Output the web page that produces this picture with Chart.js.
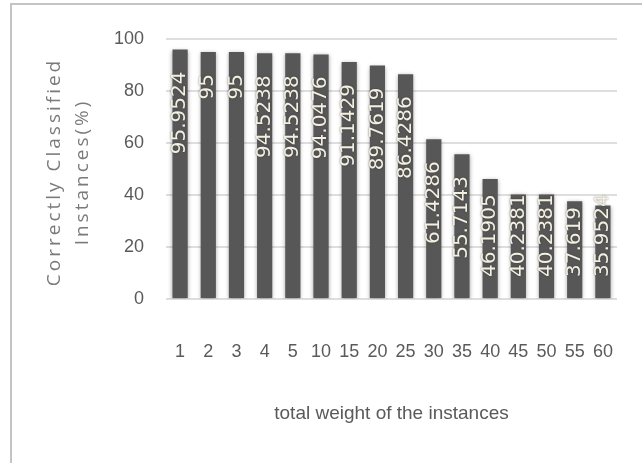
<!DOCTYPE html>
<html>
<head>
<meta charset="utf-8">
<script src="https://cdn.jsdelivr.net/npm/chart.js@4/dist/chart.umd.min.js"></script>
<style>
  html, body { margin: 0; padding: 0; background: #ffffff; }
  #wrap { position: relative; width: 642px; height: 463px; overflow: hidden; }
  #frame { position: absolute; left: 10px; top: 3px; width: 700px; height: 600px;
           border-top: 2px solid #c4c4c4; border-left: 2px solid #c4c4c4; }
  #c { position: absolute; left: 0; top: 0; }
</style>
</head>
<body>
<div id="wrap">
  <div id="frame"></div>
  <canvas id="c" width="642" height="463"></canvas>
</div>
<script>
// Classification accuracy by total instance weight
const weights = ['1', '2', '3', '4', '5', '10', '15', '20', '25', '30', '35', '40', '45', '50', '55', '60'];
const accuracy = [95.9524, 95, 95, 94.5238, 94.5238, 94.0476, 91.1429, 89.7619, 86.4286,
                  61.4286, 55.7143, 46.1905, 40.2381, 40.2381, 37.619, 35.9524];
const yTicks = [0, 20, 40, 60, 80, 100];
const xTitle = 'total weight of the instances';
const yTitle = ['Correctly Classified', 'Instances(%)'];

const sans = "'Liberation Sans', Arial, sans-serif";

// soft shadow under the bars
const barShadow = {
  id: 'barShadow',
  beforeDatasetsDraw(chart) {
    const ctx = chart.ctx;
    ctx.save();
    ctx.shadowColor = 'rgba(0,0,0,0.35)';
    ctx.shadowBlur = 4;
    ctx.shadowOffsetY = 1;
  },
  afterDatasetsDraw(chart) {
    chart.ctx.restore();
  }
};

// vertical value labels inside each bar
const barLabels = {
  id: 'barLabels',
  afterDatasetsDraw(chart) {
    const ctx = chart.ctx;
    const meta = chart.getDatasetMeta(0);
    const zeroY = chart.scales.y.getPixelForValue(0);
    const limit = zeroY - 22;
    ctx.save();
    ctx.font = "20px 'DejaVu Sans', sans-serif";
    ctx.fillStyle = '#f3f0e2';
    ctx.textAlign = 'right';
    ctx.textBaseline = 'middle';
    ctx.shadowColor = 'rgba(40,40,40,0.6)';
    ctx.shadowBlur = 2;
    meta.data.forEach((bar, i) => {
      const txt = String(chart.data.datasets[0].data[i]);
      const w = ctx.measureText(txt).width;
      let end = bar.y + 22;
      if (end + w > limit) end = limit - w;
      ctx.save();
      ctx.translate(bar.x, end);
      ctx.rotate(-Math.PI / 2);
      ctx.fillText(txt, 0, 0);
      ctx.restore();
    });
    ctx.restore();
  }
};

// two-line rotated y-axis title
const yAxisTitle = {
  id: 'yAxisTitle',
  afterDraw(chart) {
    const ctx = chart.ctx;
    const area = chart.chartArea;
    const cy = area.top + 133;
    ctx.save();
    ctx.font = "19px 'Open Sans', sans-serif";
    ctx.letterSpacing = '3px';
    ctx.fillStyle = '#7a7a7a';
    ctx.textAlign = 'center';
    ctx.textBaseline = 'middle';
    yTitle.forEach((line, k) => {
      ctx.save();
      ctx.translate(55 + k * 28, cy);
      ctx.rotate(-Math.PI / 2);
      ctx.fillText(line, 0, 0);
      ctx.restore();
    });
    ctx.restore();
  }
};

new Chart(document.getElementById('c'), {
  type: 'bar',
  data: {
    labels: weights,
    datasets: [{
      data: accuracy,
      backgroundColor: '#575757',
      borderWidth: 0,
      barPercentage: 0.54,
      categoryPercentage: 1.0
    }]
  },
  options: {
    responsive: false,
    animation: false,
    devicePixelRatio: 1,
    layout: { padding: { top: 39, right: 25, left: 0, bottom: 0 } },
    plugins: { legend: { display: false }, tooltip: { enabled: false } },
    scales: {
      x: {
        grid: { display: false, drawTicks: true, tickLength: 40 },
        border: { display: false },
        ticks: {
          color: '#5a5a5a', font: { family: sans, size: 18 }, padding: 2,
          autoSkip: false, maxRotation: 0, minRotation: 0
        },
        title: {
          display: true, text: xTitle, color: '#5a5a5a',
          font: { family: sans, size: 19 }, padding: { top: 0, bottom: 38 }
        },
        afterFit(scale) { scale.height = 164; }
      },
      y: {
        min: 0, max: 100,
        afterBuildTicks(scale) { scale.ticks = yTicks.map(v => ({ value: v })); },
        grid: { color: '#dedede', lineWidth: 2, drawTicks: false },
        border: { display: false },
        ticks: { color: '#5a5a5a', font: { family: sans, size: 18 }, padding: 22 },
        afterFit(scale) { scale.width = 166; }
      }
    }
  },
  plugins: [barShadow, barLabels, yAxisTitle]
});
</script>
</body>
</html>
